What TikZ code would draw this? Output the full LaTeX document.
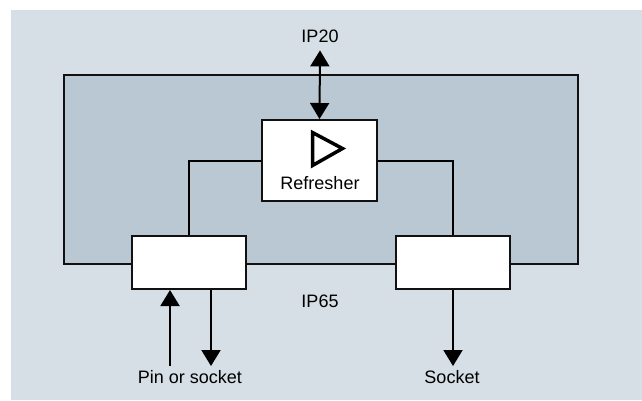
\documentclass[tikz,border=0pt]{standalone}
\usepackage{fontspec}
\setmainfont{Liberation Sans}
\usetikzlibrary{arrows.meta}
\definecolor{fonblue}{HTML}{D5DFE5}
\definecolor{housing}{HTML}{B9C8D3}
\definecolor{liniya}{HTML}{111111}
\begin{document}
\begin{tikzpicture}[
        x=1pt, y=-1pt, % 1 пиксель = 1pt, ось y вниз
        line width=2pt,
        tip/.style = {-{Triangle[width=19pt, length=16pt]}},
        dtip/.style = {{Triangle[width=19pt, length=16pt]}-{Triangle[width=19pt, length=16pt]}},
        box/.style={draw=liniya, fill=white, inner sep=0pt}, % Белые блоки
        lbl/.style={font=\fontsize{18}{20}\selectfont, inner sep=0pt, text=black},
    ]
    \useasboundingbox (0,0) rectangle (642,400);
    \fill[fonblue] (11,10) rectangle (642,400); % Фон

    \node[draw=liniya, line width=1.5pt, fill=housing, inner sep=0pt, minimum width=514pt, minimum height=189pt] (korpus) at (321,169.5) {};

    \node[box, minimum width=115pt, minimum height=81pt] (refresher) at (319.5,160.5) {};
    \draw[line width=3.5pt, line join=miter] ([shift={(-7,-28)}]refresher.center) -- ([shift={(23,-12)}]refresher.center)
        -- ([shift={(-7,5)}]refresher.center) -- cycle;
    \node[lbl] (refresherlabel) at (320,183.5) {Refresher};

    \node[box, minimum width=114pt, minimum height=53pt] (leftbox) at (189,262.5) {};
    \node[box, minimum width=114pt, minimum height=53pt] (rightbox) at (453,262.5) {};

    \node[lbl] (ip20) at (320,36) {IP20};
    \node[lbl] (ip65) at (320,301) {IP65};
    \node[lbl] (pinsocket) at (190,377) {Pin or socket};
    \node[lbl] (socket) at (452,377) {Socket};

    \coordinate (pinin) at (170,366);
    \coordinate (pinout) at (211,366);
    \coordinate (socketout) at (453,366);

    \draw (refresher.west) -| (leftbox.north);
    \draw (refresher.east) -| (rightbox.north);
    \draw[dtip] ([yshift=-7pt]ip20.south) -- (refresher.north);
    \draw[tip] (pinin) -- (pinin |- leftbox.south);
    \draw[tip] (pinout |- leftbox.south) -- (pinout);
    \draw[tip] (rightbox.south) -- (socketout);
\end{tikzpicture}
\end{document}
